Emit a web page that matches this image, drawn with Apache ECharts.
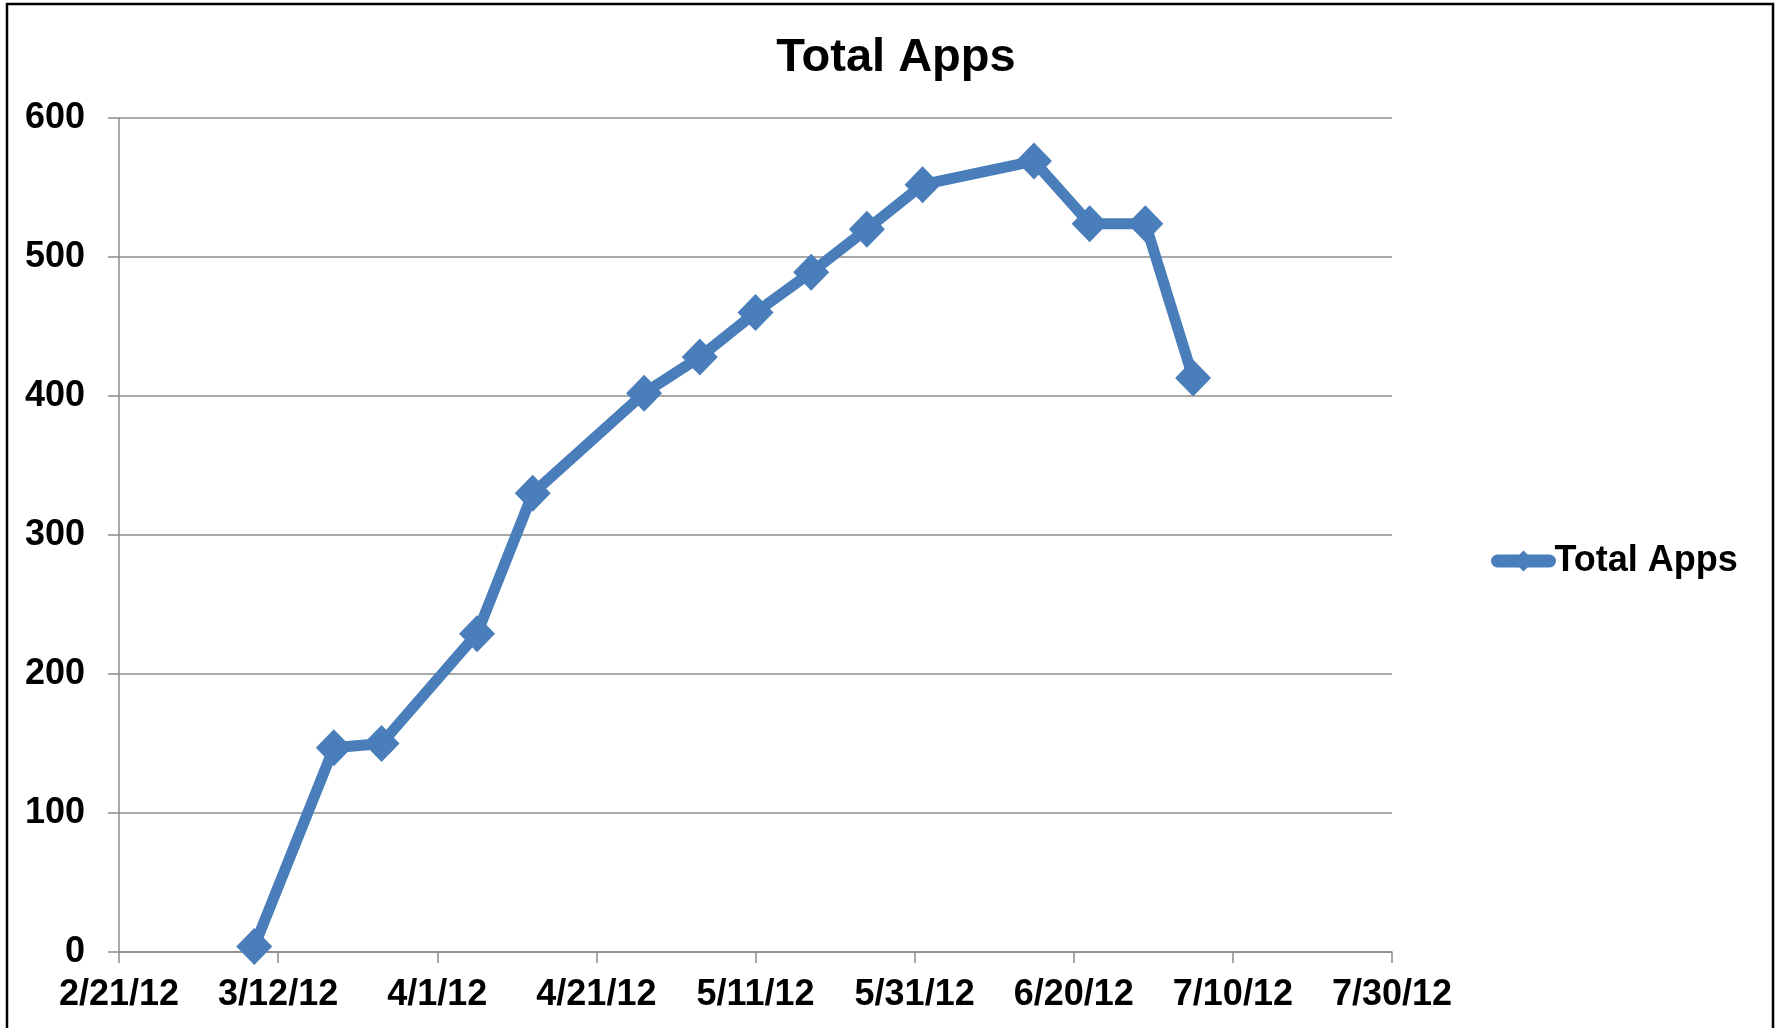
<!DOCTYPE html>
<html>
<head>
<meta charset="utf-8">
<title>Total Apps</title>
<script src="https://cdn.jsdelivr.net/npm/echarts@6/dist/echarts.min.js"></script>
<style>
  html, body { margin: 0; padding: 0; background: #fff; }
  #chart { width: 1779px; height: 1028px; }
</style>
</head>
<body>
<div id="chart"></div>
<script>
  // 数据
  const dates = [
    '2012-03-09', '2012-03-19', '2012-03-25', '2012-04-06', '2012-04-13',
    '2012-04-27', '2012-05-04', '2012-05-11', '2012-05-18', '2012-05-25',
    '2012-06-01', '2012-06-15', '2012-06-22', '2012-06-29', '2012-07-05'
  ];
  const totalApps = [4, 147, 150, 229, 330, 402, 428, 460, 489, 520, 552, 569, 524, 524, 413];
  const xTickLabels = ['2/21/12', '3/12/12', '4/1/12', '4/21/12', '5/11/12', '5/31/12', '6/20/12', '7/10/12', '7/30/12'];
  const yTickLabels = ['0', '100', '200', '300', '400', '500', '600'];

  const startDay = Date.UTC(2012, 1, 21);
  const DAY = 24 * 3600 * 1000;

  // days since 2/21/12
  function toDay(s) {
    const p = s.split('-');
    return (Date.UTC(+p[0], +p[1] - 1, +p[2]) - startDay) / DAY;
  }

  const seriesData = dates.map((d, i) => [toDay(d), totalApps[i]]);

  const FONT = '"Liberation Sans", Arial, sans-serif';
  const BLUE = '#4a7ebb';
  const GRID_GRAY = '#8c8c8c';

  const myChart = echarts.init(document.getElementById('chart'));

  const option = {
    animation: false,
    backgroundColor: '#fff',
    title: {
      text: 'Total Apps',
      left: 891,
      top: 30,
      textAlign: 'center',
      textStyle: { fontFamily: FONT, fontWeight: 'bold', fontSize: 47, color: '#000' }
    },
    legend: {
      left: 1491,
      top: 543,
      padding: 0,
      itemWidth: 52,
      itemHeight: 26,
      lineStyle: { width: 13, cap: 'round' },
      textStyle: { fontFamily: FONT, fontWeight: 'bold', fontSize: 36, color: '#000' },
      data: ['Total Apps']
    },
    grid: {
      left: 119,
      right: 387,
      top: 118,
      bottom: 76,
      outerBoundsMode: 'none',
      containLabel: false
    },
    xAxis: {
      type: 'value',
      min: 0,
      max: 160,
      interval: 20,
      axisLine: { show: true, lineStyle: { color: GRID_GRAY, width: 1.5 } },
      axisTick: { show: true, inside: false, length: 11, lineStyle: { color: GRID_GRAY, width: 1.5 } },
      splitLine: { show: false },
      axisLabel: {
        margin: 25,
        fontFamily: FONT,
        fontWeight: 'bold',
        fontSize: 36,
        color: '#000',
        formatter: (v) => xTickLabels[Math.round(v / 20)]
      }
    },
    yAxis: {
      type: 'value',
      min: 0,
      max: 600,
      interval: 100,
      axisLine: { show: true, lineStyle: { color: GRID_GRAY, width: 1.5 } },
      axisTick: { show: true, inside: false, length: 11, lineStyle: { color: GRID_GRAY, width: 1.5 } },
      splitLine: { show: true, lineStyle: { color: GRID_GRAY, width: 1.5 } },
      axisLabel: {
        margin: 34,
        fontFamily: FONT,
        fontWeight: 'bold',
        fontSize: 36,
        color: '#000',
        formatter: (v) => yTickLabels[Math.round(v / 100)]
      }
    },
    series: [
      {
        name: 'Total Apps',
        type: 'line',
        data: seriesData,
        symbol: 'diamond',
        symbolSize: [36, 37],
        showAllSymbol: true,
        lineStyle: { color: BLUE, width: 11 },
        itemStyle: { color: BLUE },
        z: 3
      }
    ],
    graphic: [
      {
        type: 'rect',
        shape: { x: 7, y: 4, width: 1766, height: 1100 },
        style: { fill: 'none', stroke: '#000', lineWidth: 2.5 },
        silent: true,
        z: 100
      }
    ]
  };

  myChart.setOption(option);
</script>
</body>
</html>
